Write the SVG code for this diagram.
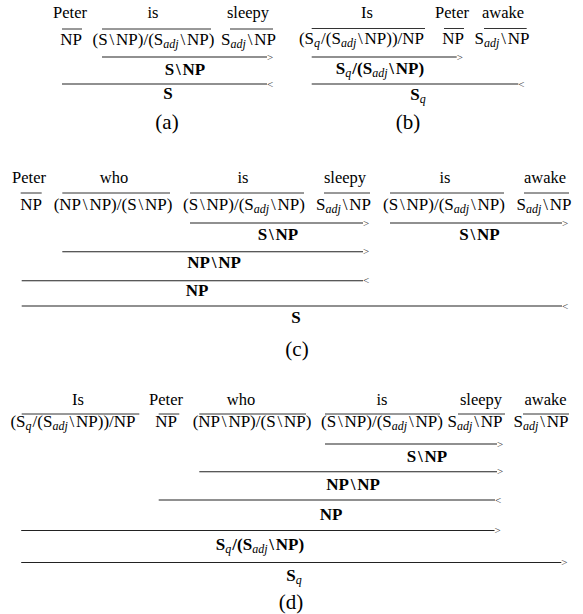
<svg xmlns="http://www.w3.org/2000/svg" width="583" height="614" viewBox="0 0 583 614">
<style>
text{font-family:"Liberation Serif","Times New Roman",serif;fill:#000}
.w,.c,.b,.lbl{text-anchor:middle}
.w{font-size:16.5px}
.c,.b{font-size:17px}
.b{font-weight:bold}
.s{font-size:12px;font-style:italic;font-weight:normal}
.lbl{font-size:21px}
.m{font-size:11px;fill:#333}
line{stroke:#222;stroke-width:1.1}
.bar{stroke:#333;stroke-width:1}
</style>
<rect width="583" height="614" fill="#fff"/>

<!-- (a) -->
<g id="fig-a">
<g id="a-words">
<text class="w" x="70" y="18">Peter</text>
<text class="w" x="153" y="18">is</text>
<text class="w" x="248" y="18">sleepy</text>
</g>
<g id="a-lex">
<text class="c" x="71" y="45">NP</text>
<text class="c" x="153.5" y="45">(S<tspan dx="1.8">\</tspan><tspan dx="1.8">NP)/(S</tspan><tspan class="s" dy="3">adj</tspan><tspan dy="-3" dx="1.8">\</tspan><tspan dx="1.8">NP)</tspan></text>
<text class="c" x="248.5" y="45">S<tspan class="s" dy="3">adj</tspan><tspan dy="-3" dx="1.8">\</tspan><tspan dx="1.8">NP</tspan></text>
</g>
<g id="a-res">
<text class="b" x="185" y="75">S<tspan dx="1.8">\</tspan><tspan dx="1.8">NP</tspan></text>
<text class="b" x="168" y="99">S</text>
</g>
<text class="lbl" x="167" y="129">(a)</text>
</g>

<!-- (b) -->
<g id="fig-b">
<g id="b-words">
<text class="w" x="367" y="18">Is</text>
<text class="w" x="452" y="18">Peter</text>
<text class="w" x="503" y="18">awake</text>
</g>
<g id="b-lex">
<text class="c" x="361.5" y="43.5">(S<tspan class="s" dy="3">q</tspan><tspan dy="-3" dx="1">/(S</tspan><tspan class="s" dy="3">adj</tspan><tspan dy="-3" dx="1.8">\</tspan><tspan dx="1.8">NP))/NP</tspan></text>
<text class="c" x="453" y="43.5">NP</text>
<text class="c" x="502" y="43.5">S<tspan class="s" dy="3">adj</tspan><tspan dy="-3" dx="1.8">\</tspan><tspan dx="1.8">NP</tspan></text>
</g>
<g id="b-res">
<text class="b" x="380" y="74">S<tspan class="s" dy="3">q</tspan><tspan dy="-3" dx="1">/(S</tspan><tspan class="s" dy="3">adj</tspan><tspan dy="-3" dx="1.8">\</tspan><tspan dx="1.8">NP)</tspan></text>
<text class="b" x="418" y="100">S<tspan class="s" dy="3">q</tspan></text>
</g>
<text class="lbl" x="408" y="129">(b)</text>
</g>

<!-- (c) -->
<g id="fig-c">
<g id="c-words">
<text class="w" x="29" y="182.5">Peter</text>
<text class="w" x="114" y="182.5">who</text>
<text class="w" x="243" y="182.5">is</text>
<text class="w" x="345" y="182.5">sleepy</text>
<text class="w" x="445" y="182.5">is</text>
<text class="w" x="545" y="182.5">awake</text>
</g>
<g id="c-lex">
<text class="c" x="31" y="210">NP</text>
<text class="c" x="113" y="210">(NP<tspan dx="1.8">\</tspan><tspan dx="1.8">NP)/(S</tspan><tspan dx="1.8">\</tspan><tspan dx="1.8">NP)</tspan></text>
<text class="c" x="244" y="210">(S<tspan dx="1.8">\</tspan><tspan dx="1.8">NP)/(S</tspan><tspan class="s" dy="3">adj</tspan><tspan dy="-3" dx="1.8">\</tspan><tspan dx="1.8">NP)</tspan></text>
<text class="c" x="343.5" y="210">S<tspan class="s" dy="3">adj</tspan><tspan dy="-3" dx="1.8">\</tspan><tspan dx="1.8">NP</tspan></text>
<text class="c" x="444" y="210">(S<tspan dx="1.8">\</tspan><tspan dx="1.8">NP)/(S</tspan><tspan class="s" dy="3">adj</tspan><tspan dy="-3" dx="1.8">\</tspan><tspan dx="1.8">NP)</tspan></text>
<text class="c" x="544" y="210">S<tspan class="s" dy="3">adj</tspan><tspan dy="-3" dx="1.8">\</tspan><tspan dx="1.8">NP</tspan></text>
</g>
<g id="c-res">
<text class="b" x="278" y="240">S<tspan dx="1.8">\</tspan><tspan dx="1.8">NP</tspan></text>
<text class="b" x="479.5" y="240">S<tspan dx="1.8">\</tspan><tspan dx="1.8">NP</tspan></text>
<text class="b" x="214" y="268">NP<tspan dx="1.8">\</tspan><tspan dx="1.8">NP</tspan></text>
<text class="b" x="197" y="296">NP</text>
<text class="b" x="296" y="323">S</text>
</g>
<text class="lbl" x="297" y="356">(c)</text>
</g>

<!-- (d) -->
<g id="fig-d">
<g id="d-words">
<text class="w" x="78" y="405">Is</text>
<text class="w" x="166" y="405">Peter</text>
<text class="w" x="241" y="405">who</text>
<text class="w" x="382" y="405">is</text>
<text class="w" x="481" y="405">sleepy</text>
<text class="w" x="545.5" y="405">awake</text>
</g>
<g id="d-lex">
<text class="c" x="73" y="426.7">(S<tspan class="s" dy="3">q</tspan><tspan dy="-3" dx="1">/(S</tspan><tspan class="s" dy="3">adj</tspan><tspan dy="-3" dx="1.8">\</tspan><tspan dx="1.8">NP))/NP</tspan></text>
<text class="c" x="166" y="426.7">NP</text>
<text class="c" x="252" y="426.7">(NP<tspan dx="1.8">\</tspan><tspan dx="1.8">NP)/(S</tspan><tspan dx="1.8">\</tspan><tspan dx="1.8">NP)</tspan></text>
<text class="c" x="382" y="426.7">(S<tspan dx="1.8">\</tspan><tspan dx="1.8">NP)/(S</tspan><tspan class="s" dy="3">adj</tspan><tspan dy="-3" dx="1.8">\</tspan><tspan dx="1.8">NP)</tspan></text>
<text class="c" x="475" y="426.7">S<tspan class="s" dy="3">adj</tspan><tspan dy="-3" dx="1.8">\</tspan><tspan dx="1.8">NP</tspan></text>
<text class="c" x="541" y="426.7">S<tspan class="s" dy="3">adj</tspan><tspan dy="-3" dx="1.8">\</tspan><tspan dx="1.8">NP</tspan></text>
</g>
<g id="d-res">
<text class="b" x="427" y="461.7">S<tspan dx="1.8">\</tspan><tspan dx="1.8">NP</tspan></text>
<text class="b" x="353" y="490">NP<tspan dx="1.8">\</tspan><tspan dx="1.8">NP</tspan></text>
<text class="b" x="331" y="520.4">NP</text>
<text class="b" x="260" y="550">S<tspan class="s" dy="3">q</tspan><tspan dy="-3" dx="1">/(S</tspan><tspan class="s" dy="3">adj</tspan><tspan dy="-3" dx="1.8">\</tspan><tspan dx="1.8">NP)</tspan></text>
<text class="b" x="294" y="581">S<tspan class="s" dy="3">q</tspan></text>
</g>
<text class="lbl" x="291" y="609">(d)</text>
</g>

<!-- connectors: lexical bars and combination lines -->
<g id="connectors">
<!-- (a) -->
<line class="bar" x1="62" y1="29" x2="82" y2="29"/>
<line class="bar" x1="102" y1="29" x2="211" y2="29"/>
<line class="bar" x1="230" y1="29" x2="273" y2="29"/>
<line x1="102" y1="57" x2="267" y2="57"/>
<line x1="62" y1="84" x2="267" y2="84"/>
<!-- (b) -->
<line class="bar" x1="311.7" y1="28.5" x2="425" y2="28.5"/>
<line class="bar" x1="444" y1="28.5" x2="464" y2="28.5"/>
<line class="bar" x1="484" y1="28.5" x2="526.7" y2="28.5"/>
<line x1="311.7" y1="57" x2="456.7" y2="57"/>
<line x1="311.7" y1="84" x2="518.3" y2="84"/>
<!-- (c) -->
<line class="bar" x1="20.7" y1="193" x2="41.7" y2="193"/>
<line class="bar" x1="62.3" y1="193" x2="170" y2="193"/>
<line class="bar" x1="190" y1="193" x2="304" y2="193"/>
<line class="bar" x1="324" y1="193" x2="370" y2="193"/>
<line class="bar" x1="390" y1="193" x2="504" y2="193"/>
<line class="bar" x1="524" y1="193" x2="569" y2="193"/>
<line x1="190" y1="223" x2="363" y2="223"/>
<line x1="390" y1="223" x2="562" y2="223"/>
<line x1="62.3" y1="251.7" x2="363" y2="251.7"/>
<line x1="21.7" y1="280.7" x2="363" y2="280.7"/>
<line x1="21.7" y1="306" x2="562" y2="306"/>
<!-- (d) -->
<line class="bar" x1="21.7" y1="414" x2="139.3" y2="414"/>
<line class="bar" x1="158.7" y1="414" x2="179.3" y2="414"/>
<line class="bar" x1="199.3" y1="414" x2="306" y2="414"/>
<line class="bar" x1="325" y1="414" x2="440" y2="414"/>
<line class="bar" x1="458" y1="414" x2="505" y2="414"/>
<line class="bar" x1="523" y1="414" x2="569" y2="414"/>
<line x1="325" y1="444" x2="497" y2="444"/>
<line x1="199.3" y1="471.7" x2="497" y2="471.7"/>
<line x1="158.7" y1="500" x2="495" y2="500"/>
<line x1="21.2" y1="530.5" x2="494.5" y2="530.5"/>
<line x1="21.2" y1="562.5" x2="561.3" y2="562.5"/>
</g>

<g id="rule-marks">
<text class="m" x="267" y="60.5">&gt;</text>
<text class="m" x="267" y="87.5">&lt;</text>
<text class="m" x="456.7" y="60.5">&gt;</text>
<text class="m" x="518.3" y="87.5">&lt;</text>
<text class="m" x="363" y="226.5">&gt;</text>
<text class="m" x="562" y="226.5">&gt;</text>
<text class="m" x="363" y="255.2">&gt;</text>
<text class="m" x="363" y="284.2">&lt;</text>
<text class="m" x="562" y="309.5">&lt;</text>
<text class="m" x="497" y="447.5">&gt;</text>
<text class="m" x="497" y="475.2">&gt;</text>
<text class="m" x="495" y="503.5">&lt;</text>
<text class="m" x="494.5" y="534">&gt;</text>
<text class="m" x="561.3" y="566">&gt;</text>
</g>
</svg>
